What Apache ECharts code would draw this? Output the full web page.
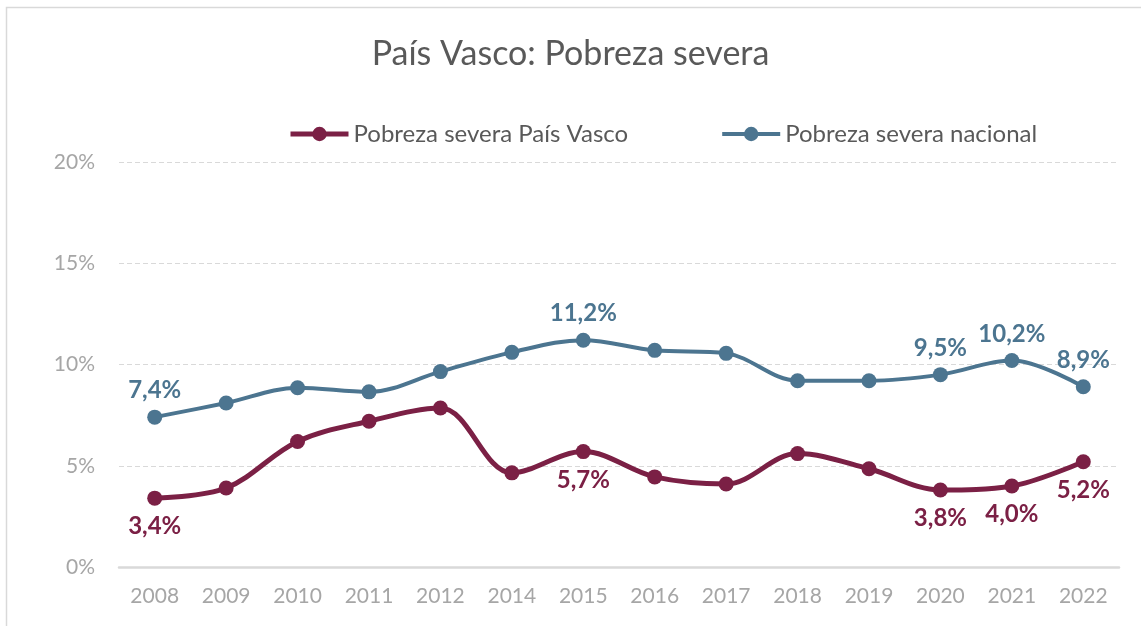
<!DOCTYPE html>
<html>
<head>
<meta charset="utf-8">
<script src="https://cdn.jsdelivr.net/npm/echarts@6/dist/echarts.min.js"></script>
<style>
  html, body { margin: 0; padding: 0; background: #fff; }
  #main { width: 1141px; height: 626px; }
</style>
</head>
<body>
<div id="main"></div>
<script>
var years = ['2008', '2009', '2010', '2011', '2012', '2014', '2015', '2016', '2017', '2018', '2019', '2020', '2021', '2022'];
var pvValues = [3.4, 3.9, 6.2, 7.2, 7.85, 4.65, 5.7, 4.45, 4.1, 5.6, 4.85, 3.8, 4.0, 5.2];
var natValues = [7.4, 8.1, 8.85, 8.65, 9.65, 10.6, 11.2, 10.7, 10.55, 9.2, 9.2, 9.5, 10.2, 8.9];
var yTicks = [0, 5, 10, 15, 20];
// years whose value is printed next to the point
var pvLabelled = ['2008', '2015', '2020', '2021', '2022'];
var natLabelled = ['2008', '2015', '2020', '2021', '2022'];

var pvColor = '#7B2045';
var natColor = '#4C7590';
var font = 'Lato, "Open Sans", sans-serif';

function withLabels(values, labelled) {
	return values.map(function(v, i) {
		return { value: v, label: { show: labelled.indexOf(years[i]) >= 0 } };
	});
}

var myChart = echarts.init(document.getElementById('main'));
var option = {
	backgroundColor: '#fff',
	animation: false,
	graphic: [{
		type: 'rect',
		shape: { x: 6.5, y: 7.5, width: 1200, height: 700 },
		style: { fill: 'none', stroke: '#d9d9d9', lineWidth: 1.5 }
	}],
	title: {
		text: 'País Vasco: Pobreza severa',
		left: 'center',
		top: 32,
		textStyle: { fontFamily: font, fontSize: 34, fontWeight: 'normal', color: '#595959' }
	},
	legend: {
		top: 117,
		left: 283,
		itemGap: 92,
		itemWidth: 58,
		itemHeight: 18,
		textStyle: { fontFamily: font, fontSize: 24, color: '#595959' },
		data: [
			{ name: 'Pobreza severa País Vasco', lineStyle: { width: 5 } },
			{ name: 'Pobreza severa nacional', lineStyle: { width: 4 } }
		]
	},
	grid: { left: 119, right: 22, top: 162, bottom: 59, containLabel: false },
	xAxis: {
		type: 'category',
		data: years,
		boundaryGap: true,
		axisLine: { lineStyle: { color: '#d9d9d9', width: 2.5 } },
		axisTick: { show: false },
		axisLabel: { fontFamily: font, fontSize: 21, color: '#a6a6a6', margin: 19 }
	},
	yAxis: {
		type: 'value',
		min: yTicks[0],
		max: yTicks[yTicks.length - 1],
		interval: 5,
		axisLine: { show: false },
		axisTick: { show: false },
		splitLine: { lineStyle: { color: '#d9d9d9', type: [5, 3], width: 1.2 } },
		axisLabel: {
			fontFamily: font, fontSize: 21, color: '#a6a6a6', margin: 24,
			formatter: function(v) { return v + '%'; }
		}
	},
	series: [{
		name: 'Pobreza severa País Vasco',
		type: 'line',
		smooth: 0.35,
		symbol: 'circle',
		symbolSize: 15,
		z: 3,
		itemStyle: { color: pvColor },
		lineStyle: { color: pvColor, width: 5 },
		label: {
			position: 'bottom',
			distance: 9,
			fontFamily: font, fontSize: 24, fontWeight: 'bold', color: pvColor,
			formatter: function(p) { return p.value.toFixed(1).replace('.', ',') + '%'; }
		},
		data: withLabels(pvValues, pvLabelled)
	}, {
		name: 'Pobreza severa nacional',
		type: 'line',
		smooth: 0.35,
		symbol: 'circle',
		symbolSize: 15,
		z: 2,
		itemStyle: { color: natColor },
		lineStyle: { color: natColor, width: 4 },
		label: {
			position: 'top',
			distance: 7,
			fontFamily: font, fontSize: 24, fontWeight: 'bold', color: natColor,
			formatter: function(p) { return p.value.toFixed(1).replace('.', ',') + '%'; }
		},
		data: withLabels(natValues, natLabelled)
	}]
};
myChart.setOption(option);
</script>
</body>
</html>
